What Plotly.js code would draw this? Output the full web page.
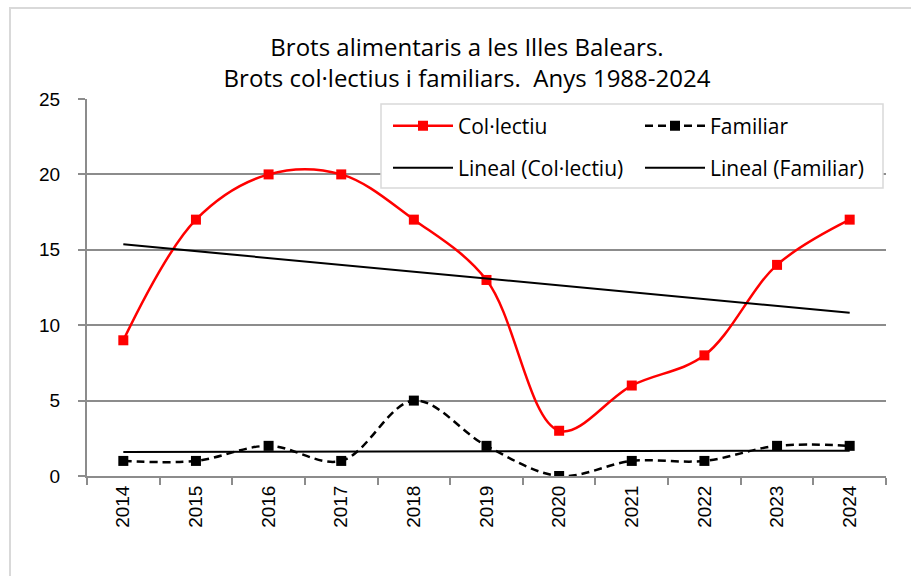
<!DOCTYPE html>
<html>
<head>
<meta charset="utf-8">
<script src="https://cdn.plot.ly/plotly-3.0.1.min.js"></script>
<style>html,body{margin:0;padding:0;background:#fff;}#chart{width:911px;height:576px;}</style>
</head>
<body>
<div id="chart"></div>
<script>
var years = ['2014','2015','2016','2017','2018','2019','2020','2021','2022','2023','2024'];
var collectiu = [9, 17, 20, 20, 17, 13, 3, 6, 8, 14, 17];
var familiar = [1, 1, 2, 1, 5, 2, 0, 1, 1, 2, 2];
var seriesNames = ['Col·lectiu', 'Familiar', 'Lineal (Col·lectiu)', 'Lineal (Familiar)'];
var titleLines = ['Brots alimentaris a les Illes Balears.', 'Brots col·lectius i familiars.\u00a0 Anys 1988-2024'];

function linearTrend(vals) {
  var n = vals.length, mx = 0, my = 0;
  for (var i = 0; i < n; i++) { mx += i; my += vals[i]; }
  mx /= n; my /= n;
  var sxy = 0, sxx = 0;
  for (var j = 0; j < n; j++) { sxy += (j - mx) * (vals[j] - my); sxx += (j - mx) * (j - mx); }
  var b = sxy / sxx, a = my - b * mx;
  return vals.map(function (_, k) { return a + b * k; });
}

var W = 911, H = 576, L = 87, R = 25, T = 99, B = 100;
var pw = W - L - R, ph = H - T - B;
function px2x(p) { return (p - L) / pw; }
function px2y(p) { return (H - B - p) / ph; }

var legendFont = {family: 'Open Sans, Noto Sans, sans-serif', size: 21, color: '#000'};

var traces = [
  {x: years, y: collectiu, name: seriesNames[0], type: 'scatter', mode: 'lines+markers',
   line: {color: '#ff0000', width: 2.5, shape: 'spline', smoothing: 1},
   marker: {symbol: 'square', size: 10, color: '#ff0000'}, legend: 'legend'},
  {x: years, y: familiar, name: seriesNames[1], type: 'scatter', mode: 'lines+markers',
   line: {color: '#000000', width: 2.5, shape: 'spline', smoothing: 1, dash: '8px,5px'},
   marker: {symbol: 'square', size: 10, color: '#000000'}, legend: 'legend'},
  {x: years, y: linearTrend(collectiu), name: seriesNames[2], type: 'scatter', mode: 'lines',
   line: {color: '#000000', width: 2}, legend: 'legend2'},
  {x: years, y: linearTrend(familiar), name: seriesNames[3], type: 'scatter', mode: 'lines',
   line: {color: '#000000', width: 2}, legend: 'legend2'}
];

var legendBase = {
  orientation: 'h', xanchor: 'left', yanchor: 'middle',
  bgcolor: 'rgba(0,0,0,0)', borderwidth: 0, font: legendFont,
  entrywidth: 177, entrywidthmode: 'pixels', itemwidth: 60, traceorder: 'normal'
};

var layout = {
  width: W, height: H,
  margin: {l: L, r: R, t: T, b: B, autoexpand: false},
  paper_bgcolor: '#ffffff', plot_bgcolor: '#ffffff',
  title: {
    text: titleLines.join('<br>'),
    font: {family: 'Open Sans, Noto Sans, sans-serif', size: 24, color: '#000'},
    xref: 'container', x: 467 / W, xanchor: 'center',
    yref: 'container', y: 1 - 56 / H, yanchor: 'middle'
  },
  showlegend: true,
  legend: Object.assign({}, legendBase, {x: px2x(388), y: px2y(126)}),
  legend2: Object.assign({}, legendBase, {x: px2x(388), y: px2y(168)}),
  xaxis: {
    type: 'category', range: [-0.5, 10.5], fixedrange: true,
    showgrid: false, zeroline: false,
    showline: true, linecolor: '#8c8c8c', linewidth: 2,
    ticks: 'outside', tickson: 'boundaries', ticklen: 7, tickwidth: 2, tickcolor: '#8c8c8c',
    tickangle: -90,
    tickfont: {family: 'Liberation Sans, Arial, sans-serif', size: 19, color: '#000'}
  },
  yaxis: {
    range: [0, 25], dtick: 5, tick0: 0, fixedrange: true,
    showgrid: true, gridcolor: '#8c8c8c', gridwidth: 2,
    zeroline: false,
    showline: true, linecolor: '#8c8c8c', linewidth: 2,
    ticks: 'outside', ticklen: 7, tickwidth: 2, tickcolor: '#8c8c8c',
    ticklabelstandoff: 14,
    tickfont: {family: 'Liberation Sans, Arial, sans-serif', size: 19, color: '#000'}
  },
  shapes: [
    {type: 'rect', xref: 'paper', yref: 'paper', layer: 'below',
     x0: px2x(10), x1: px2x(930), y0: px2y(600), y1: px2y(8),
     line: {color: '#d9d9d9', width: 2}, fillcolor: 'rgba(0,0,0,0)'},
    {type: 'rect', xref: 'paper', yref: 'paper', layer: 'above',
     x0: px2x(381), x1: px2x(883), y0: px2y(188), y1: px2y(104),
     line: {color: '#d9d9d9', width: 1.5}, fillcolor: '#ffffff'}
  ]
};

Plotly.newPlot('chart', traces, layout, {displayModeBar: false, staticPlot: true});
</script>
</body>
</html>
